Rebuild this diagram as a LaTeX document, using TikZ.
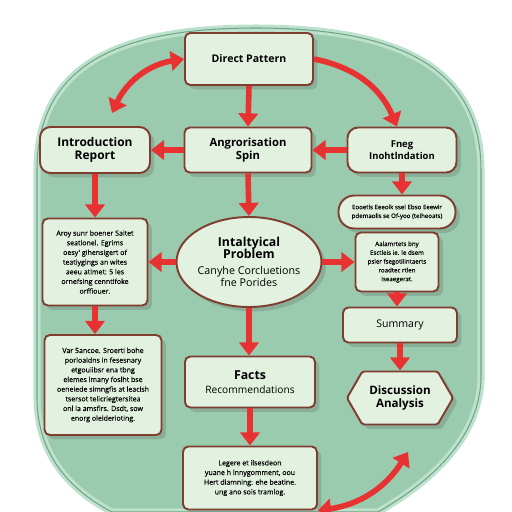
\documentclass[tikz,border=0pt]{standalone}
\usepackage{fontspec}
\setmainfont{Open Sans}
\newfontfamily\medfam[FakeBold=0.35]{Open Sans}
\usetikzlibrary{arrows.meta,shapes.geometric,shapes.misc,shapes.symbols,shadows,calc}
\definecolor{bggreen}{RGB}{155,203,175}
\definecolor{rimlight}{RGB}{190,225,205}
\definecolor{rimdark}{RGB}{110,165,135}
\definecolor{boxfill}{RGB}{226,241,224}
\definecolor{boxline}{RGB}{128,62,48}
\definecolor{arrred}{RGB}{232,50,50}
\newcommand\myttlfont{\fontsize{7}{7.8}\selectfont\bfseries}
\newcommand\mysubfont{\fontsize{6.1}{7.2}\selectfont}
\tikzset{
  box/.style={draw=boxline, line width=1.1pt, fill=boxfill, rounded corners=3pt,
    align=center, inner sep=1pt,
    drop shadow={shadow xshift=2.5pt, shadow yshift=-2.5pt, opacity=0.22, fill=black!70}},
  ttl/.style={font=\fontsize{6}{7.4}\selectfont\bfseries},
  bodytxt/.style={font=\medfam\fontsize{4}{5.5}\selectfont},
  smalltxt/.style={font=\medfam\fontsize{3.5}{5}\selectfont},
  arr/.style={draw=arrred, line width=3.2pt, -{Triangle[width=11pt,length=7.5pt]}},
  darr/.style={draw=arrred, line width=3.2pt,
    {Triangle[width=11pt,length=7.5pt]}-{Triangle[width=11pt,length=7.5pt]}},
}
\begin{document}
\begin{tikzpicture}[x=0.02cm,y=-0.02cm]
\useasboundingbox (0,0) rectangle (512,512);
% background shape
\def\bgpath{(37,170) .. controls (37,65) and (118,28) .. (256,28)
  .. controls (394,28) and (481,65) .. (481,170) -- (481,380)
  .. controls (478,440) and (430,482) .. (378,512) -- (112,512)
  .. controls (70,490) and (38,455) .. (37,400) -- cycle}
\fill[bggreen] \bgpath;
\draw[rimlight, line width=4pt] \bgpath;
\draw[rimdark, line width=0.6pt] \bgpath;

% nodes
\node[box, ttl, minimum width=2.56cm, minimum height=1.04cm] (dp) at (249,59) {Direct Pattern};
\node[box, ttl, font=\fontsize{6.8}{7.8}\selectfont\bfseries, rounded corners=6pt, minimum width=2.2cm, minimum height=0.92cm] (intro) at (95,150) {Introduction\\Report};
\node[box, ttl, font=\fontsize{6.4}{7.6}\selectfont\bfseries, minimum width=2.54cm, minimum height=0.9cm] (ang) at (248,150) {Angrorisation\\Spin};
\node[box, ttl, font=\fontsize{5.4}{7}\selectfont\bfseries, rounded corners=6pt, minimum width=2.18cm, minimum height=0.9cm] (fneg) at (402,150) {Fneg\\Inohtlndation};
\node[box, bodytxt, minimum width=2.1cm, minimum height=1.74cm] (lb1) at (95,262)
  {Aroy sunr boener Saitet\\seatlonel. Egrims\\oesy' gihensigert of\\teatiygings an wites\\aeeu atlmet: 5 les\\ornefsing cenntifoke\\orffiouer.};
\node[box, bodytxt, minimum width=2.34cm, minimum height=2.0cm] (lb2) at (103,385)
  {Var 5ancoe. Sroerti bohe\\porloaidns in fesesnary\\etgouiibsr ena tbng\\elemes lmany foslht bse\\oeneiede simngfis at leacish\\tsersot telicriegtersitea\\onl la amsfirs. Dsdt, sow\\enorg oleiderioting.};
\node[box, ellipse, inner sep=0pt, font=\fontsize{6}{7}\selectfont, minimum width=2.84cm, minimum height=1.8cm] (ell) at (249,262)
  {\myttlfont Intaltyical\\\myttlfont Problem\\[2pt]\mysubfont Canyhe Corcluetions\\\mysubfont fne Porides};
\node[box, smalltxt, rounded corners=9pt, minimum width=2.34cm, minimum height=0.66cm] (pill) at (397,212)
  {Eooetis Eeeoik ssel Ebso Eeewir\\pdemaolis se Of-yoo (teiheoats)};
\node[box, smalltxt, minimum width=1.66cm, minimum height=1.18cm] (rt) at (397,262)
  {Aalamrtets bny\\Esctleis ie. le dsem\\psler fsegotiiintaerts\\roadtec rtlen\\Iseaegerat.};
\node[box, font=\fontsize{6}{7}\selectfont, minimum width=2.28cm, minimum height=0.7cm] (sum) at (400,325) {Summary};
\node[box, signal, signal to=east and west, signal pointer angle=120, rounded corners=1pt,
  font=\fontsize{6.6}{7.6}\selectfont\bfseries, minimum width=2.12cm, minimum height=1.06cm] (disc) at (400,398) {Discussion\\Analysis};
\node[box, font=\fontsize{6}{7.6}\selectfont, minimum width=2.6cm, minimum height=1.02cm] (facts) at (250,382)
  {\myttlfont Facts\\\fontsize{5.8}{7}\selectfont Recommendations};
\node[box, bodytxt, minimum width=2.68cm, minimum height=1.26cm] (bot) at (250,478)
  {Legere et ilsesdeon\\yuane h lnnygomment, oou\\Hert diamning: ehe beatine.\\ung ano sois tramlog.};

% free ends
\coordinate (c1) at (112,113);
\coordinate (c4) at (408,452);

% arrows
\draw[darr] (dp.west) to[bend right=28] (c1);
\draw[arr] (dp.east) to[bend left=28] ($(fneg.north)+(-5,0)$);
\draw[arr] (dp.south) -- (ang.north);
\draw[arr] (ang.west) -- (intro.east);
\draw[arr] (fneg.west) -- (ang.east);
\draw[arr] (intro.south) -- (lb1.north);
\draw[arr] (ang.south) -- (ell.north);
\draw[arr] (fneg.south) -- (fneg.south |- pill.north);
\draw[arr] (ell.west) -- (lb1.east);
\draw[arr] (ell.east) -- (rt.west);
\draw[arr] (lb1.south) -- (lb1.south |- lb2.north);
\draw[arr] (ell.south) -- (ell.south |- facts.north);
\draw[arr] (facts.south) -- (facts.south |- bot.north);
\draw[arr] (rt.south) -- (rt.south |- sum.north);
\draw[arr] (sum.south) -- (sum.south |- disc.north);
\draw[darr] (bot.south east) to[bend right=25] (c4);
\end{tikzpicture}
\end{document}
